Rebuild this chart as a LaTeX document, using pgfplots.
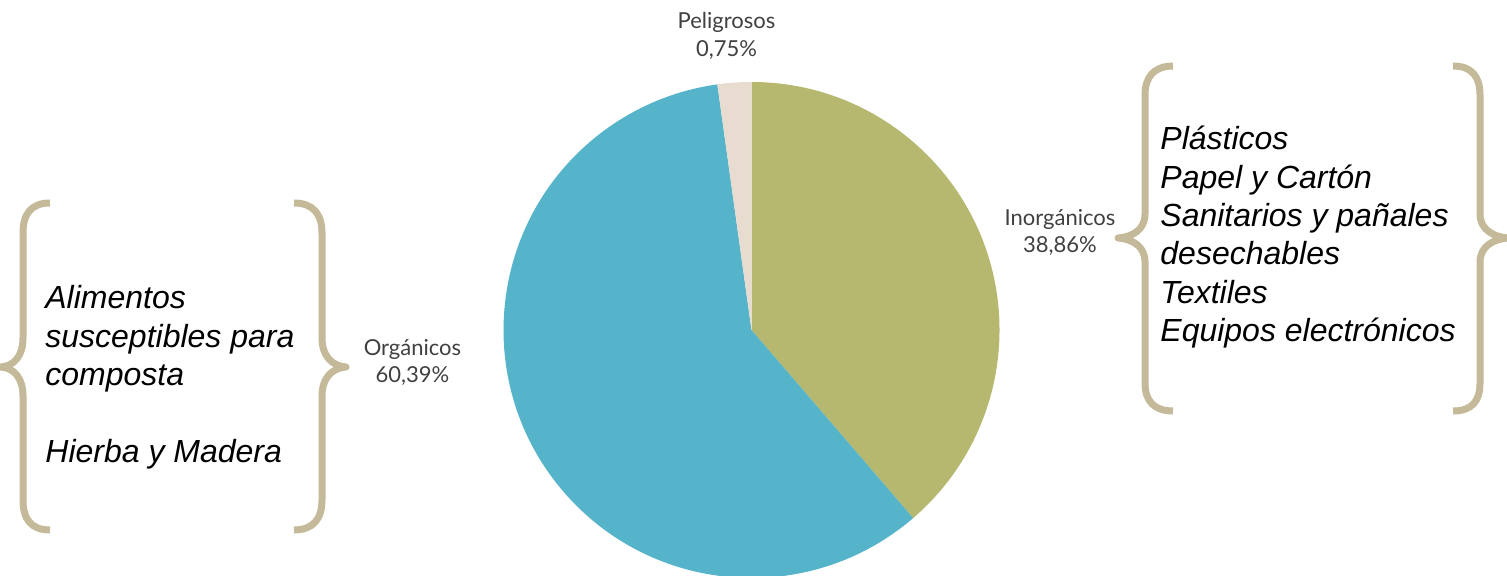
\documentclass[border=0pt]{standalone}
\usepackage{pgfplots}
\pgfplotsset{compat=1.18}
\usepackage{pgfplotstable}
\usepackage{fontspec}
\setmainfont{Liberation Sans}
\newfontfamily\lbl{Lato}

\definecolor{cInorg}{RGB}{181,184,110}
\definecolor{cOrg}{RGB}{86,180,202}
\definecolor{cPel}{RGB}{232,219,207}
\definecolor{cBrace}{RGB}{196,185,152}
\definecolor{cLabel}{RGB}{64,64,64}

% wedge sizes as drawn (percent)
\pgfplotstableread{
label value
Inorganicos 38.7
Organicos 59.1
Peligrosos 2.2
}\piedata

\begin{document}
\begin{tikzpicture}
\pgfplotstablegetelem{0}{value}\of\piedata
\pgfmathsetmacro\aA{90-3.6*\pgfplotsretval}
\pgfplotstablegetelem{1}{value}\of\piedata
\pgfmathsetmacro\aB{\aA-3.6*\pgfplotsretval}
\pgfplotstablegetelem{2}{value}\of\piedata
\pgfmathsetmacro\aC{\aB-3.6*\pgfplotsretval}
\begin{axis}[hide axis, scale only axis, width=753.5pt, height=288pt,
  xmin=0, xmax=1507, ymin=0, ymax=576, y dir=reverse, clip=false]
\coordinate (ll) at (axis cs:0,0);
\coordinate (ur) at (axis cs:1507,576);
% pie
\fill[cInorg] (axis cs:751.5,330) -- ++(90:124pt) arc[start angle=90, end angle=\aA, radius=124pt] -- cycle;
\fill[cOrg] (axis cs:751.5,330) -- ++(\aA:124pt) arc[start angle=\aA, end angle=\aB, radius=124pt] -- cycle;
\fill[cPel] (axis cs:751.5,330) -- ++(\aB:124pt) arc[start angle=\aB, end angle=\aC, radius=124pt] -- cycle;
% slice labels
\tikzset{lab/.style={anchor=base, inner sep=0pt, text=cLabel, font=\lbl\fontsize{11}{13}\selectfont}}
\node[lab] at (axis cs:726.5,29) {Peligrosos};
\node[lab] at (axis cs:726.5,57) {0,75\%};
\node[lab] at (axis cs:1060,225.5) {Inorgánicos};
\node[lab] at (axis cs:1060,253) {38,86\%};
\node[lab] at (axis cs:412.5,356) {Orgánicos};
\node[lab] at (axis cs:412.5,383) {60,39\%};
% braces
\tikzset{br/.style={draw=cBrace, line width=3.5pt, line join=round}}
\draw[br] (axis cs:50,203) .. controls (axis cs:31,203) and (axis cs:23,214) .. (axis cs:23,233)
  -- (axis cs:23,338) .. controls (axis cs:23,356) and (axis cs:14,366) .. (axis cs:1,367)
  .. controls (axis cs:14,368) and (axis cs:23,378) .. (axis cs:23,396)
  -- (axis cs:23,500) .. controls (axis cs:23,519) and (axis cs:31,530) .. (axis cs:50,530);
\draw[br] (axis cs:294,203) .. controls (axis cs:313,203) and (axis cs:322,214) .. (axis cs:322,233)
  -- (axis cs:322,338) .. controls (axis cs:322,356) and (axis cs:332,366) .. (axis cs:346,367)
  .. controls (axis cs:332,368) and (axis cs:322,378) .. (axis cs:322,396)
  -- (axis cs:322,500) .. controls (axis cs:322,519) and (axis cs:313,530) .. (axis cs:294,530);
\draw[br] (axis cs:1173,66) .. controls (axis cs:1154,66) and (axis cs:1145,77) .. (axis cs:1145,95)
  -- (axis cs:1145,214) .. controls (axis cs:1145,230) and (axis cs:1132,237) .. (axis cs:1118,238)
  .. controls (axis cs:1132,239) and (axis cs:1145,246) .. (axis cs:1145,262)
  -- (axis cs:1145,383) .. controls (axis cs:1145,401) and (axis cs:1154,411) .. (axis cs:1173,411);
\draw[br] (axis cs:1453,66) .. controls (axis cs:1472,66) and (axis cs:1480,77) .. (axis cs:1480,95)
  -- (axis cs:1480,214) .. controls (axis cs:1480,230) and (axis cs:1494,237) .. (axis cs:1508,238)
  .. controls (axis cs:1494,239) and (axis cs:1480,246) .. (axis cs:1480,262)
  -- (axis cs:1480,383) .. controls (axis cs:1480,401) and (axis cs:1472,411) .. (axis cs:1453,411);
% brace texts
\tikzset{bt/.style={anchor=base west, inner sep=0pt, font=\itshape\fontsize{16}{19}\selectfont}}
\node[bt] at (axis cs:45,309) {Alimentos};
\node[bt] at (axis cs:45,347.3) {susceptibles para};
\node[bt] at (axis cs:45,385.6) {composta};
\node[bt] at (axis cs:45,462) {Hierba y Madera};
\node[bt] at (axis cs:1160,150) {Plásticos};
\node[bt] at (axis cs:1160,188.3) {Papel y Cartón};
\node[bt] at (axis cs:1160,226.6) {Sanitarios y pañales};
\node[bt] at (axis cs:1160,264.9) {desechables};
\node[bt] at (axis cs:1160,303.2) {Textiles};
\node[bt] at (axis cs:1160,341.5) {Equipos electrónicos};
\end{axis}
\pgfresetboundingbox
\path (ll) rectangle (ur);
\end{tikzpicture}
\end{document}
